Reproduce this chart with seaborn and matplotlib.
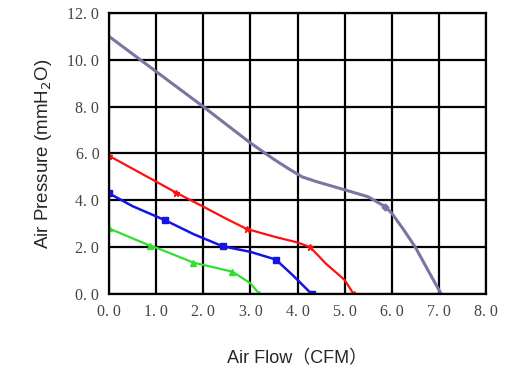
import pandas as pd
import matplotlib.pyplot as plt
import seaborn as sns

# curves (air flow in CFM, pressure in mmH2O)
purple_x = [0.0, 1.0, 2.0, 3.0, 3.5, 3.85, 4.1, 4.4, 5.0, 5.5, 5.86, 6.0, 6.25, 6.5, 6.8, 7.05]
purple_y = [11.0, 9.5, 8.0, 6.45, 5.75, 5.3, 5.0, 4.8, 4.45, 4.15, 3.73, 3.45, 2.75, 2.0, 0.9, 0.0]

red_x = [0.0, 0.5, 1.0, 1.42, 2.0, 2.5, 2.92, 3.5, 4.0, 4.27, 4.6, 5.0, 5.19]
red_y = [5.9, 5.35, 4.8, 4.33, 3.73, 3.2, 2.78, 2.45, 2.2, 2.0, 1.3, 0.6, 0.0]
red_mx = [0.0, 1.42, 2.92, 4.27, 5.19]
red_my = [5.9, 4.33, 2.78, 2.0, 0.0]

blue_x = [0.0, 0.5, 1.19, 1.8, 2.41, 3.0, 3.54, 3.9, 4.3]
blue_y = [4.3, 3.75, 3.15, 2.55, 2.04, 1.8, 1.47, 0.8, 0.0]
blue_mx = [0.0, 1.19, 2.41, 3.54, 4.3]
blue_my = [4.3, 3.15, 2.04, 1.47, 0.0]

green_x = [0.0, 0.86, 1.0, 1.79, 2.2, 2.62, 3.0, 3.19]
green_y = [2.8, 2.07, 1.98, 1.34, 1.15, 0.95, 0.46, 0.0]
green_mx = [0.0, 0.86, 1.79, 2.62, 3.19]
green_my = [2.8, 2.07, 1.34, 0.95, 0.0]

xticks = [0, 1, 2, 3, 4, 5, 6, 7, 8]
yticks = [0, 2, 4, 6, 8, 10, 12]

sns.set_style("white")

fig = plt.figure(figsize=(5.11, 3.83), dpi=100)
ax = fig.add_axes([0.2133, 0.2324, 0.7378, 0.7337])

sns.lineplot(x=purple_x, y=purple_y, sort=False, color="#8072a2", linewidth=2.2, ax=ax)
ax.plot([5.86], [3.73], marker="D", markersize=3.5, color="#8072a2")

sns.lineplot(x=red_x, y=red_y, sort=False, color="#ff1010", linewidth=1.6, ax=ax)
ax.plot(red_mx, red_my, linestyle="none", marker="*", markersize=4.5, color="#ff1010")

sns.lineplot(x=blue_x, y=blue_y, sort=False, color="#1414e6", linewidth=1.8, ax=ax)
ax.plot(blue_mx, blue_my, linestyle="none", marker="s", markersize=4.5, color="#1414e6")

sns.lineplot(x=green_x, y=green_y, sort=False, color="#30e030", linewidth=1.6, ax=ax)
ax.plot(green_mx, green_my, linestyle="none", marker="^", markersize=4, color="#30e030")

ax.set_xlim(0, 8)
ax.set_ylim(0, 12)
ax.set_xticks(xticks)
ax.set_yticks(yticks)
ax.set_xticklabels(["%d. 0" % v for v in xticks], fontfamily="Liberation Serif", fontsize=11.5, color="#444444")
ax.set_yticklabels(["%d. 0" % v for v in yticks], fontfamily="Liberation Serif", fontsize=11.5, color="#444444")
ax.tick_params(length=0, pad=7)

ax.grid(True, color="black", linewidth=1.6)
ax.set_axisbelow(True)
for s in ax.spines.values():
    s.set_color("black")
    s.set_linewidth(1.6)

ax.set_xlabel("Air Flow（CFM）", family=["Liberation Sans", "Noto Sans CJK SC"], fontsize=13, labelpad=22)
ax.set_ylabel("Air Pressure (mmH$_2$O)", family="Liberation Sans", fontsize=13.5, labelpad=10)

fig.savefig("out.png", dpi=100)
